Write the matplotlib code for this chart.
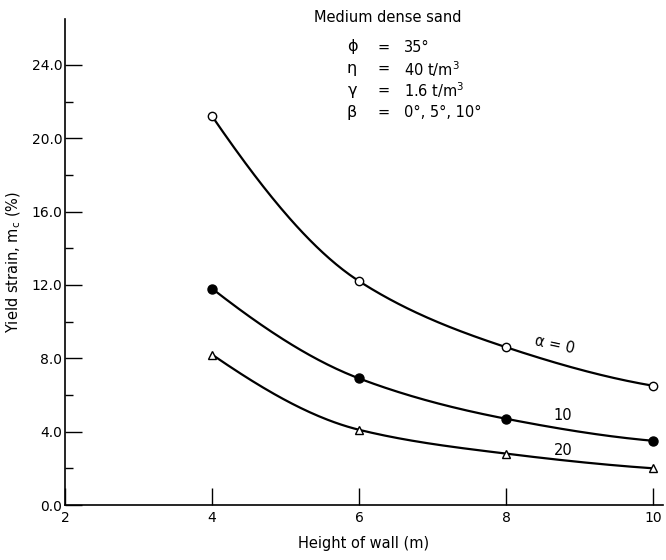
import numpy as np
import matplotlib
matplotlib.use("Agg")
import matplotlib.pyplot as plt
from matplotlib.ticker import MultipleLocator, FixedLocator

# Data
heights = [4, 6, 8, 10]
strain_a0 = [21.2, 12.2, 8.6, 6.5]
strain_a10 = [11.8, 6.9, 4.7, 3.5]
strain_a20 = [8.2, 4.1, 2.8, 2.0]
x_ticks = [2, 4, 6, 8, 10]
y_ticks = [0, 4, 8, 12, 16, 20, 24]


def pchip(x, y, xs):
    x = np.asarray(x, float); y = np.asarray(y, float)
    h = np.diff(x); d = np.diff(y) / h
    n = len(x); m = np.zeros(n)
    for k in range(1, n - 1):
        if d[k - 1] * d[k] > 0:
            w1 = 2 * h[k] + h[k - 1]; w2 = h[k] + 2 * h[k - 1]
            m[k] = (w1 + w2) / (w1 / d[k - 1] + w2 / d[k])
    m[0] = ((2 * h[0] + h[1]) * d[0] - h[0] * d[1]) / (h[0] + h[1])
    if np.sign(m[0]) != np.sign(d[0]): m[0] = 0
    m[-1] = ((2 * h[-1] + h[-2]) * d[-1] - h[-1] * d[-2]) / (h[-1] + h[-2])
    if np.sign(m[-1]) != np.sign(d[-1]): m[-1] = 0
    out = np.empty_like(xs)
    for i, xv in enumerate(xs):
        k = min(np.searchsorted(x, xv, side='right') - 1, n - 2)
        k = max(k, 0)
        t = (xv - x[k]) / h[k]
        h00 = 2 * t**3 - 3 * t**2 + 1; h10 = t**3 - 2 * t**2 + t
        h01 = -2 * t**3 + 3 * t**2; h11 = t**3 - t**2
        out[i] = h00 * y[k] + h10 * h[k] * m[k] + h01 * y[k + 1] + h11 * h[k] * m[k + 1]
    return out


plt.rcParams['font.family'] = ['DejaVu Sans']
fig = plt.figure(figsize=(6.66, 5.6), dpi=100)
ax = fig.add_axes([0.0976, 0.0982, 0.8979, 0.8678])

xs = np.linspace(4, 10, 200)
lw = 1.6
for ys, mk, fc, ms in [(strain_a0, 'o', 'white', 6),
                       (strain_a10, 'o', 'black', 6.5),
                       (strain_a20, '^', 'white', 6)]:
    ax.plot(xs, pchip(heights, ys, xs), color='black', lw=lw, zorder=2)
    ax.plot(heights, ys, linestyle='none', marker=mk, markersize=ms,
            markerfacecolor=fc, markeredgecolor='black', markeredgewidth=1.0, zorder=3)

ax.set_xlim(2, 10.13)
ax.set_ylim(0, 26.5)
ax.spines['top'].set_visible(False)
ax.spines['right'].set_visible(False)
ax.spines['left'].set_linewidth(1.2)
ax.spines['bottom'].set_linewidth(1.2)

ax.xaxis.set_major_locator(FixedLocator(x_ticks))
ax.set_xticklabels([str(v) for v in x_ticks])
ax.yaxis.set_major_locator(FixedLocator(y_ticks))
ax.set_yticklabels([f"{v:.1f}" for v in y_ticks])
ax.yaxis.set_minor_locator(FixedLocator([2, 6, 10, 14, 18, 22]))
ax.tick_params(axis='both', which='major', direction='in', length=12, width=1.0,
               labelsize=10, pad=4)
ax.tick_params(axis='y', which='minor', direction='in', length=6, width=1.0)
ax.tick_params(axis='y', which='major', pad=2)

ax.set_xlabel("Height of wall (m)", fontsize=10.5, labelpad=8)
ax.set_ylabel("Yield strain, m$_\\mathregular{c}$ (%)", fontsize=10.5, labelpad=6)

# Annotations
fs = 10.5
fig.text(388 / 666, 1 - 17 / 560, "Medium dense sand", fontsize=fs, ha='center', va='center')
rows = [("ϕ", "35°"), ("η", "40 t/m$^\\mathregular{3}$"), ("γ", "1.6 t/m$^\\mathregular{3}$"),
        ("β", "0°, 5°, 10°")]
for i, (sym, val) in enumerate(rows):
    yy = 1 - (47 + i * 21.7) / 560
    fig.text(352 / 666, yy, sym, fontsize=fs + 1, ha='center', va='center')
    fig.text(384 / 666, yy, "=", fontsize=fs, ha='center', va='center')
    fig.text(404 / 666, yy, val, fontsize=fs, ha='left', va='center')

ax.text(8.66, 8.75, "α = 0", fontsize=fs, ha='center', va='center', rotation=-12)
ax.text(8.77, 4.9, "10", fontsize=fs, ha='center', va='center')
ax.text(8.77, 2.95, "20", fontsize=fs, ha='center', va='center')

fig.savefig("out.png", dpi=100)
